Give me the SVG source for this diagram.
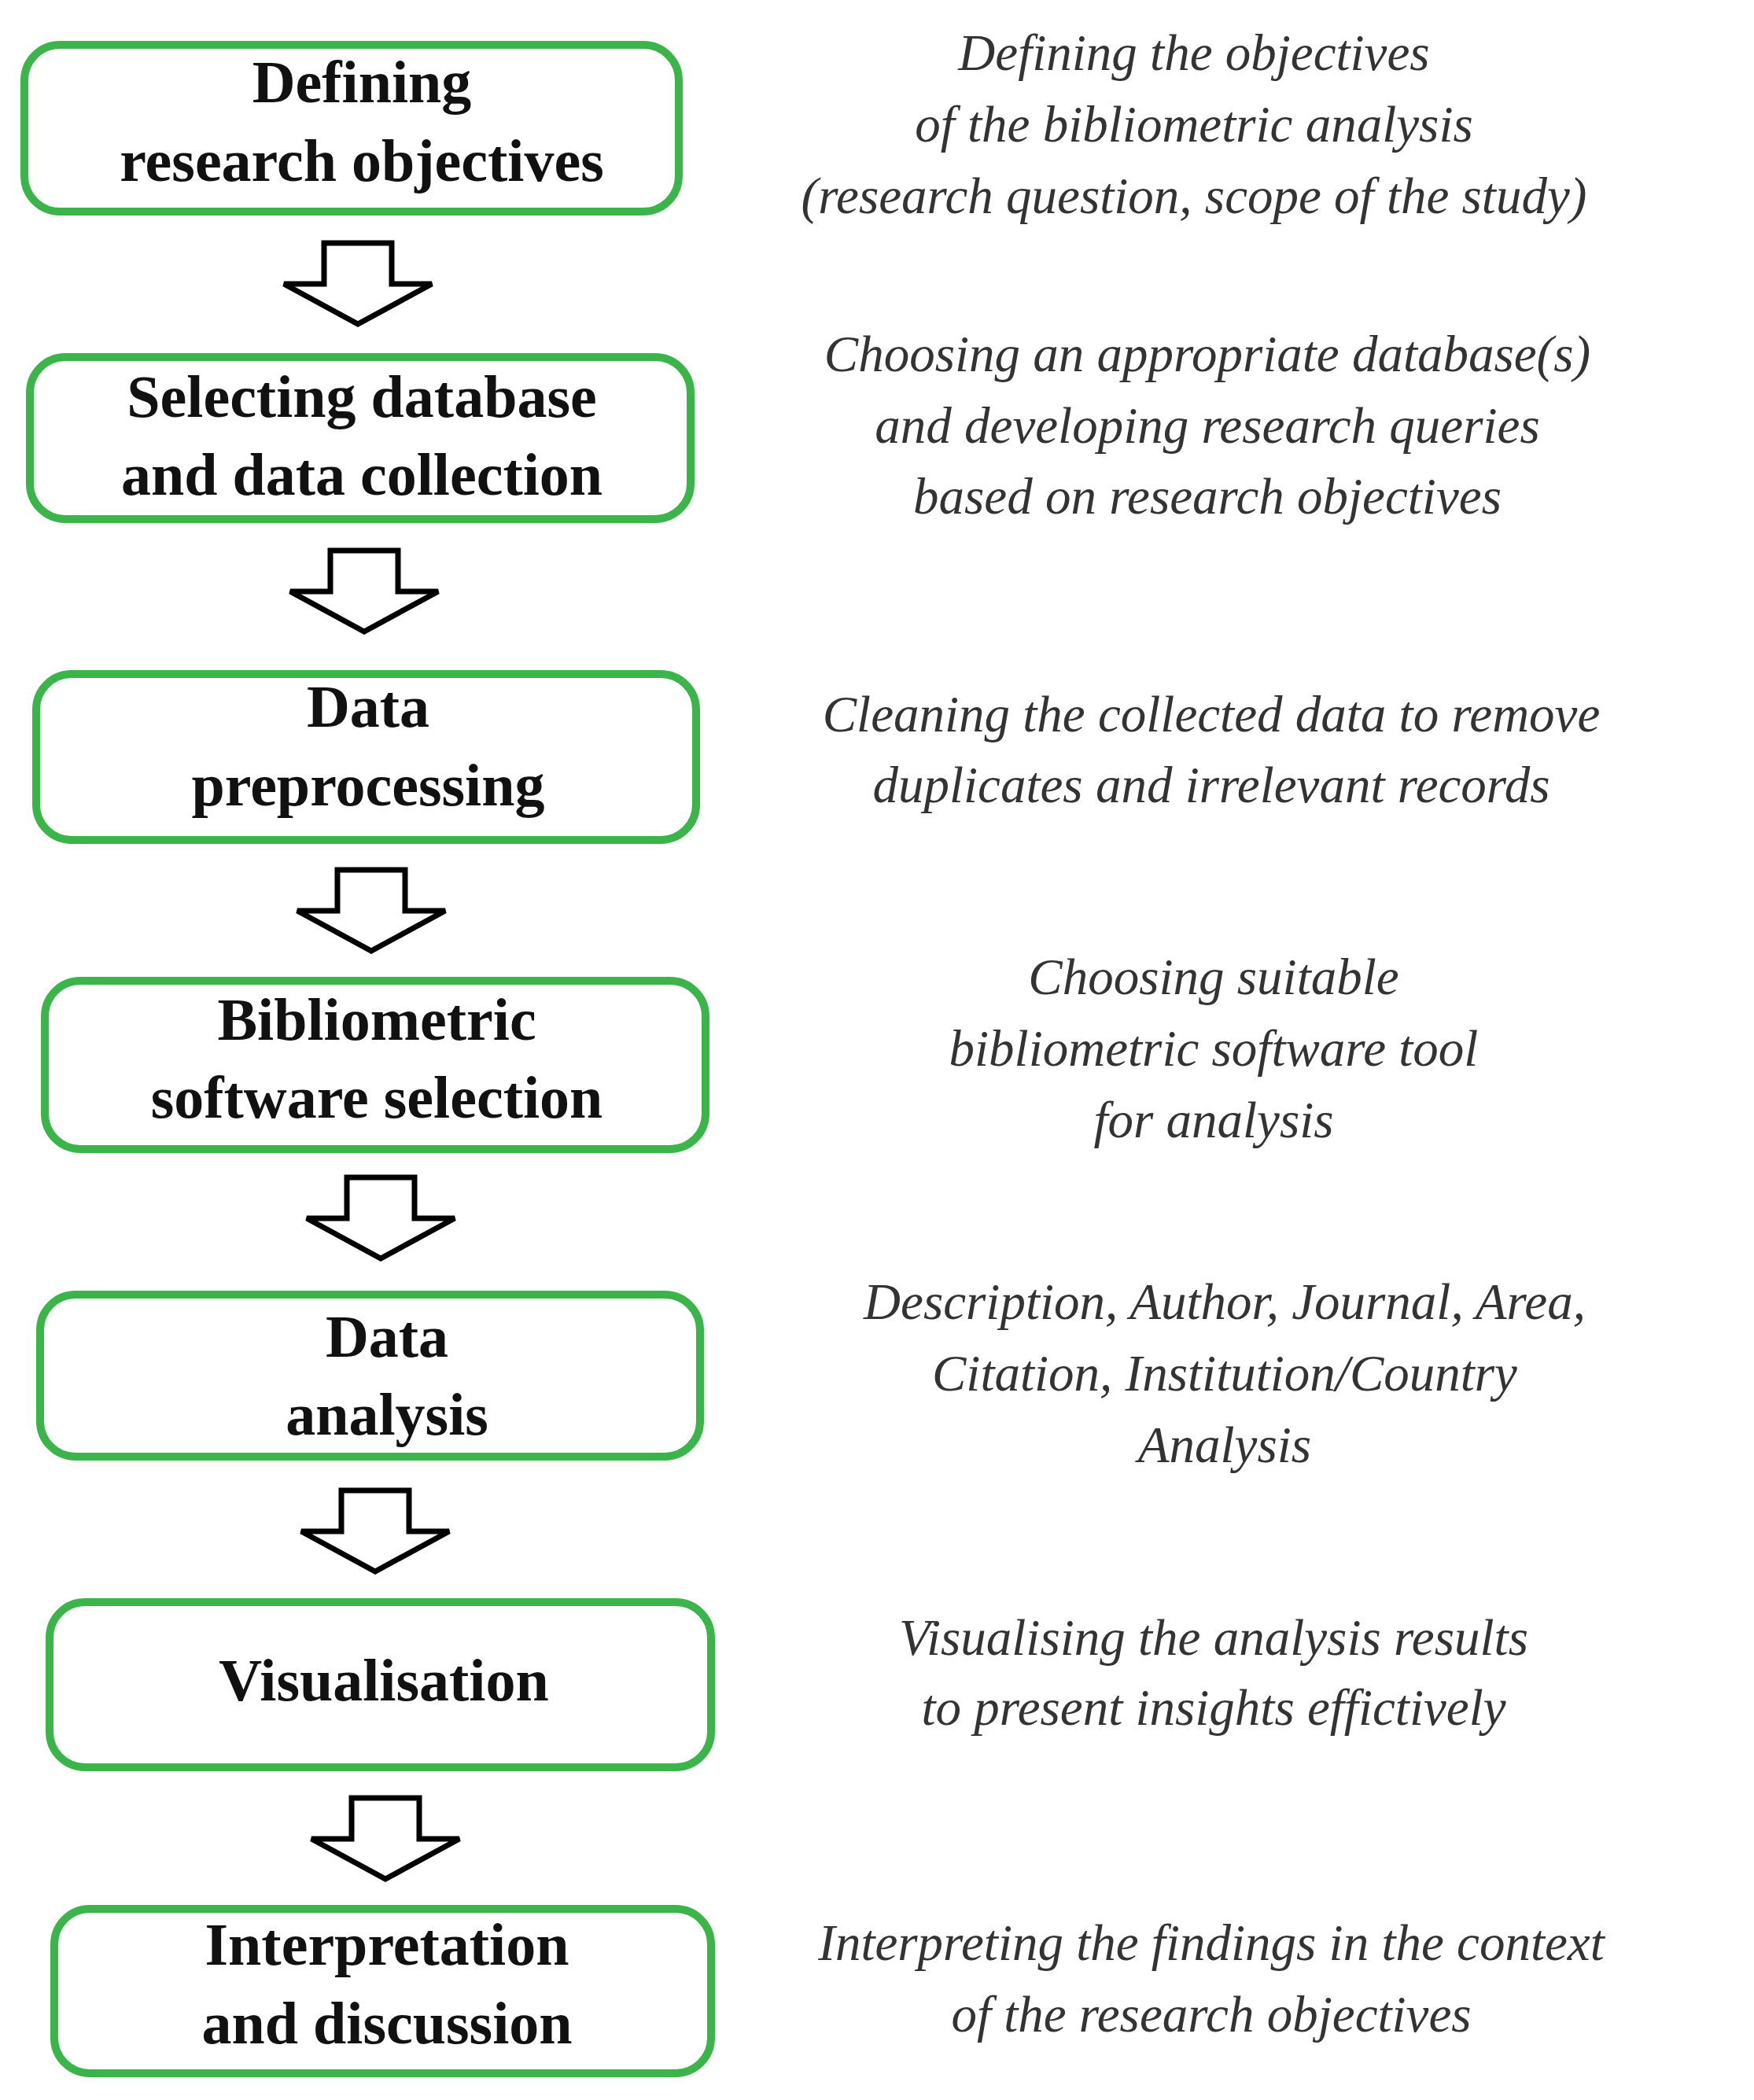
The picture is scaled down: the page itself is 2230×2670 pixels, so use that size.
<svg xmlns="http://www.w3.org/2000/svg" width="2230" height="2670" viewBox="0 0 2230 2670">
<defs>
<style>
.box{fill:#fff;stroke:#3bb54a;stroke-width:10}
.bt{font-family:"Liberation Serif",serif;font-weight:bold;font-size:76px;fill:#111;text-anchor:middle}
.it{font-family:"Liberation Serif",serif;font-style:italic;font-size:65px;fill:#333;text-anchor:middle}
.arr{fill:#fff;stroke:#000;stroke-width:7;stroke-linejoin:miter}
</style>
<path id="a" class="arr" d="M-43,0 H43 V52 H94 L0,103 L-94,52 H-43 Z"/>
</defs>
<rect width="2230" height="2670" fill="#fff"/>
<g id="connectors">
<use href="#a" x="455" y="309"/>
<use href="#a" x="463" y="700"/>
<use href="#a" x="472" y="1106"/>
<use href="#a" x="484" y="1497"/>
<use href="#a" x="477" y="1895"/>
<use href="#a" x="490" y="2286"/>
</g>
<g id="n1"><rect class="box" x="31" y="57" width="832" height="212" rx="45"/><text class="bt" x="460" y="130">Defining</text><text class="bt" x="460" y="230">research objectives</text></g>
<g id="n2"><rect class="box" x="38" y="454" width="840" height="206" rx="45"/><text class="bt" x="460" y="530">Selecting database</text><text class="bt" x="460" y="629">and data collection</text></g>
<g id="n3"><rect class="box" x="46" y="857" width="839" height="211" rx="45"/><text class="bt" x="468" y="924">Data</text><text class="bt" x="468" y="1024">preprocessing</text></g>
<g id="n4"><rect class="box" x="57" y="1247" width="840" height="214" rx="45"/><text class="bt" x="479" y="1322">Bibliometric</text><text class="bt" x="479" y="1421">software selection</text></g>
<g id="n5"><rect class="box" x="51" y="1646" width="839" height="206" rx="45"/><text class="bt" x="492" y="1725">Data</text><text class="bt" x="492" y="1824">analysis</text></g>
<g id="n6"><rect class="box" x="63" y="2037" width="841" height="210" rx="45"/><text class="bt" x="488" y="2162">Visualisation</text></g>
<g id="n7"><rect class="box" x="69" y="2427" width="835" height="209" rx="45"/><text class="bt" x="492" y="2498">Interpretation</text><text class="bt" x="492" y="2598">and discussion</text></g>
<g id="desc">
<text class="it" x="1518" y="89">Defining the objectives</text>
<text class="it" x="1518" y="180">of the bibliometric analysis</text>
<text class="it" x="1518" y="271">(research question, scope of the study)</text>
<text class="it" x="1535" y="472">Choosing an appropriate database(s)</text>
<text class="it" x="1535" y="563">and developing research queries</text>
<text class="it" x="1535" y="653">based on research objectives</text>
<text class="it" x="1540" y="930">Cleaning  the collected data to remove</text>
<text class="it" x="1540" y="1020">duplicates and irrelevant records</text>
<text class="it" x="1543" y="1264">Choosing suitable</text>
<text class="it" x="1543" y="1355">bibliometric software tool</text>
<text class="it" x="1543" y="1446">for analysis</text>
<text class="it" x="1557" y="1677">Description, Author, Journal, Area,</text>
<text class="it" x="1557" y="1768">Citation, Institution/Country</text>
<text class="it" x="1557" y="1859">Analysis</text>
<text class="it" x="1543" y="2104">Visualising the analysis results</text>
<text class="it" x="1543" y="2193">to present insights effictively</text>
<text class="it" x="1540" y="2492">Interpreting the findings in the context</text>
<text class="it" x="1540" y="2583">of the research objectives</text>
</g>
</svg>
